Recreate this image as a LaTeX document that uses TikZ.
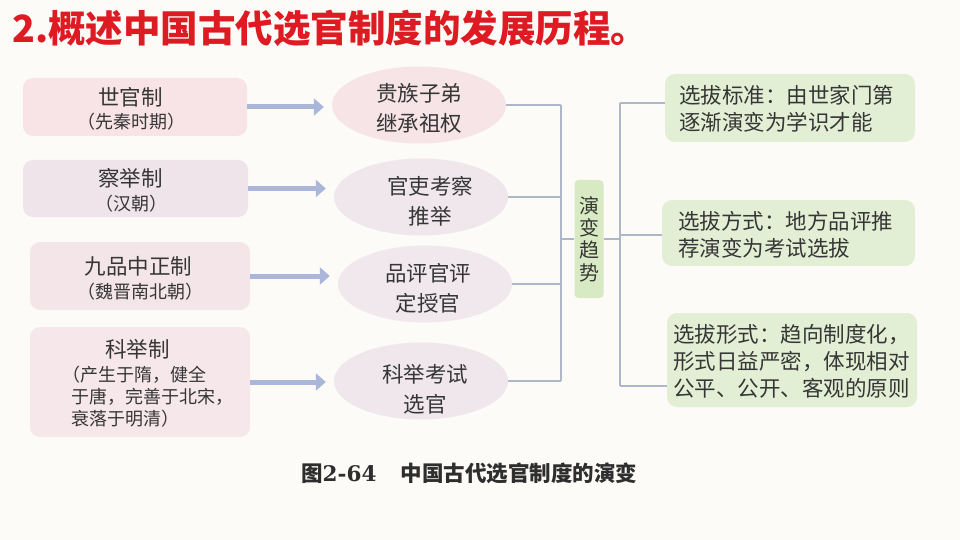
\documentclass[tikz,border=0pt]{standalone}
\usepackage{fontspec}
\setmainfont{Noto Sans CJK SC}
\newfontfamily\capnum{DejaVu Serif}
\usetikzlibrary{arrows.meta,shapes.geometric}

\definecolor{bg}{HTML}{FCFBF7}
\definecolor{titlered}{HTML}{DE1A22}
\definecolor{txt}{HTML}{363636}
\definecolor{pinkA}{HTML}{F8E3E6}
\definecolor{pinkB}{HTML}{EEE4EA}
\definecolor{pinkC}{HTML}{F4E5E9}
\definecolor{pinkD}{HTML}{F6E7EB}
\definecolor{ellA}{HTML}{F6E4E7}
\definecolor{ellB}{HTML}{EFE7EC}
\definecolor{ellC}{HTML}{F0E8EC}
\definecolor{ellD}{HTML}{F0E7EC}
\definecolor{arrowblue}{HTML}{AAB6DA}
\definecolor{connline}{HTML}{ADB7C7}
\definecolor{greenT}{HTML}{D8EAC3}
\definecolor{greenR}{HTML}{E3EFD5}

\begin{document}
\begin{tikzpicture}[x=1pt,y=-1pt,
  lbox/.style={rounded corners=10pt, inner sep=0pt, draw=none},
  maintext/.style={inner sep=0pt, text=txt, font=\fontsize{21.5}{24}\selectfont},
  subtext/.style={inner sep=0pt, text=txt, font=\fontsize{18}{22}\selectfont},
  ell/.style={ellipse, inner sep=0pt, draw=none, minimum width=174pt, minimum height=77pt},
  etext/.style={inner sep=0pt, text=txt, align=center, font=\fontsize{21.5}{30}\selectfont},
  rbox/.style={rounded corners=10pt, inner sep=0pt, draw=none, fill=greenR},
  rtext/.style={inner sep=0pt, text=txt, anchor=north west, align=left, font=\fontsize{21.5}{27}\selectfont},
  arr/.style={draw=arrowblue, line width=5pt, -{Triangle[length=10pt,width=17pt]}},
  conn/.style={draw=connline, line width=1.4pt}
]
\fill[bg] (0,0) rectangle (960,540);
\useasboundingbox (0,0) rectangle (960,540);

% title
\node[anchor=west, inner sep=0pt, text=titlered, font=\fontsize{37.5}{40}\selectfont\bfseries] (title) at (12,28) {2.概述中国古代选官制度的发展历程。};

% left boxes
\node[lbox, fill=pinkA, minimum width=224pt, minimum height=58pt] (L1) at (135,107) {};
\node[lbox, fill=pinkB, minimum width=225pt, minimum height=57pt] (L2) at (135.5,188.5) {};
\node[lbox, fill=pinkC, minimum width=220pt, minimum height=68pt] (L3) at (140,276) {};
\node[lbox, fill=pinkD, minimum width=220pt, minimum height=110pt] (L4) at (140,382) {};

\node[maintext] (L1a) at (130.5,97) {世官制};
\node[subtext] (L1b) at (131,122) {（先秦时期）};
\node[maintext] (L2a) at (130.5,178) {察举制};
\node[subtext] (L2b) at (131,204) {（汉朝）};
\node[maintext] (L3a) at (138.5,266) {九品中正制};
\node[subtext] (L3b) at (140,292) {（魏晋南北朝）};
\node[maintext] (L4a) at (137.5,349) {科举制};
\node[subtext, anchor=west] (L4b) at (62,375) {（产生于隋，健全};
\node[subtext, anchor=west] (L4c) at (71,397) {于唐，完善于北宋，};
\node[subtext, anchor=west] (L4d) at (71,419) {衰落于明清）};

% ellipses
\node[ell, fill=ellA] (E1) at (419,105) {};
\node[ell, fill=ellB] (E2) at (421,197) {};
\node[ell, fill=ellC] (E3) at (425,284) {};
\node[ell, fill=ellD] (E4) at (421,381) {};
\node[etext] (E1t) at (419,108) {贵族子弟\\继承祖权};
\node[etext] (E2t) at (430,201) {官吏考察\\推举};
\node[etext] (E3t) at (428,288) {品评官评\\定授官};
\node[etext] (E4t) at (425,389) {科举考试\\选官};

% arrows
\draw[arr] (L1.east) -- ([xshift=-8pt]L1.east -| E1.west);
\draw[arr] (L2.east) -- ([xshift=-8pt]L2.east -| E2.west);
\draw[arr] (L3.east) -- ([xshift=-8pt]L3.east -| E3.west);
\draw[arr] (L4.east) -- ([xshift=-8pt]L4.east -| E4.west);

% trend box
\node[rounded corners=4pt, fill=greenT, inner sep=0pt, minimum width=29pt, minimum height=118pt] (T) at (589,239) {};
\node[inner sep=0pt, text=txt, align=center, font=\fontsize{20}{22.3}\selectfont] (Tt) at (589,239) {演\\变\\趋\\势};

% left bus
\coordinate (bx) at (561,0);
\draw[conn] (E1.east) -- (E1.east -| bx);
\draw[conn] (E2.east) -- (E2.east -| bx);
\draw[conn] (E3.east) -- (E3.east -| bx);
\draw[conn] (E4.east) -- (E4.east -| bx);
\draw[conn] (E1.east -| bx) -- (E4.east -| bx);
\draw[conn] (T.west -| bx) -- (T.west);

% right boxes
\node[rbox, minimum width=250pt, minimum height=68pt] (R1) at (790,108) {};
\node[rbox, minimum width=253pt, minimum height=66pt] (R2) at (788.5,233) {};
\node[rbox, minimum width=250pt, minimum height=94pt] (R3) at (792,360) {};
\node[rtext] (R1t) at (679,85) {选拔标准：由世家门第\\逐渐演变为学识才能};
\node[rtext] (R2t) at (678,211) {选拔方式：地方品评推\\荐演变为考试选拔};
\node[rtext] (R3t) at (673,324) {选拔形式：趋向制度化，\\形式日益严密，体现相对\\公平、公开、客观的原则};

% right bus
\coordinate (k1) at (620,103);
\coordinate (k2) at (620,235);
\coordinate (k3) at (620,386);
\draw[conn] (T.east) -- (T.east -| k1);
\draw[conn] (k1) -- (k3);
\draw[conn] (k1) -- (k1 -| R1.west);
\draw[conn] (k2) -- (k2 -| R2.west);
\draw[conn] (k3) -- (k3 -| R3.west);

% caption
\node[anchor=west, inner sep=0pt, text=txt!85!black, font=\fontsize{21.5}{24}\selectfont\bfseries] (cap) at (301,473) {图{\capnum\bfseries 2-64}\hspace{24pt}中国古代选官制度的演变};
\end{tikzpicture}
\end{document}
